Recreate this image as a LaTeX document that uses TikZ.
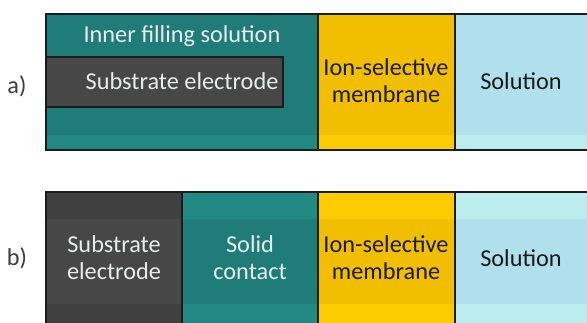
\documentclass[tikz,border=0pt]{standalone}
\usepackage{fontspec}
\setmainfont{Carlito}
\definecolor{tealD}{RGB}{31,124,121}
\definecolor{tealL}{RGB}{34,136,130}
\definecolor{yelD}{RGB}{242,190,0}
\definecolor{yelL}{RGB}{252,203,0}
\definecolor{bluD}{RGB}{176,224,235}
\definecolor{bluL}{RGB}{188,237,238}
\definecolor{grayD}{RGB}{64,64,64}
\definecolor{grayL}{RGB}{71,71,71}
\definecolor{lineC}{RGB}{28,28,28}
\definecolor{lightT}{RGB}{232,236,236}
\definecolor{darkT}{RGB}{26,26,26}
\tikzset{
  lbl/.style={font=\fontsize{24.3}{26.8}\selectfont, align=center, inner sep=0pt},
  wtxt/.style={lbl, text=lightT},
  btxt/.style={lbl, text=darkT},
  border/.style={draw=lineC, line width=1.5pt},
}
\begin{document}
\begin{tikzpicture}[x=1pt,y=-1pt]
\useasboundingbox (0,0) rectangle (587,323);
% ---- panel a ----
\fill[tealD] (46,14) rectangle (318,150);
\fill[tealL] (46,135) rectangle (318,150);
\fill[yelD] (318,14) rectangle (455,150);
\fill[yelL] (318,135) rectangle (455,150);
\fill[bluD] (455,14) rectangle (588,150);
\fill[bluL] (455,135) rectangle (588,150);
\draw[border] (588,14) -- (46,14) -- (46,150) -- (588,150);
\draw[border] (318,14) -- (318,150);
\draw[border] (455,14) -- (455,150);
\draw[border, fill=grayL] (46,57) rectangle (283,107);
\node[wtxt] (ifs) at (182,36) {Inner filling solution};
\node[wtxt] (sea) at (182,81) {Substrate electrode};
\node[btxt] (isma) at (386,81) {Ion-selective\\membrane};
\node[btxt] (sola) at (521,81) {Solution};
\node[lbl, text=darkT!85] (la) at (17,86) {a)};
% ---- panel b ----
\fill[grayD] (46,192) rectangle (182,324);
\fill[grayL] (46,219) rectangle (182,304);
\fill[tealL] (182,192) rectangle (318,324);
\fill[tealD] (182,219) rectangle (318,304);
\fill[yelL] (318,192) rectangle (455,324);
\fill[yelD] (318,219) rectangle (455,304);
\fill[bluL] (455,192) rectangle (588,324);
\fill[bluD] (455,219) rectangle (588,304);
\draw[border] (46,324) -- (46,192) -- (588,192);
\draw[border] (182,192) -- (182,324);
\draw[border] (318,192) -- (318,324);
\draw[border] (455,192) -- (455,324);
\node[wtxt] (seb) at (114,258) {Substrate\\electrode};
\node[wtxt] (sc) at (250,258) {Solid\\contact};
\node[btxt] (ismb) at (386,258) {Ion-selective\\membrane};
\node[btxt] (solb) at (521,258) {Solution};
\node[lbl, text=darkT!85] (lb) at (17,258) {b)};
\end{tikzpicture}
\end{document}
